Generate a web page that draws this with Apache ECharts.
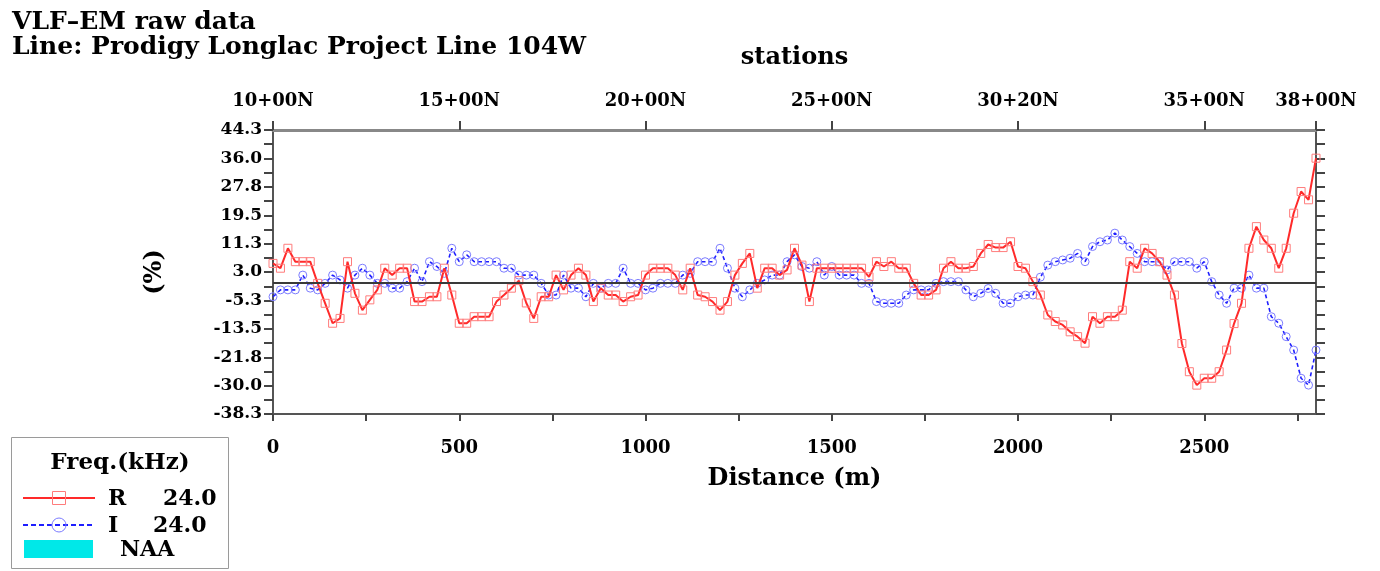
<!DOCTYPE html>
<html>
<head>
<meta charset="utf-8">
<script src="https://cdn.jsdelivr.net/npm/echarts@6/dist/echarts.min.js"></script>
<style>
html,body{margin:0;padding:0;background:#fff;}
#chart{width:1380px;height:571px;}
</style>
</head>
<body>
<div id="chart"></div>
<script>
// Distance along the line (m)
const distances = [
  0,20,40,60,80,100,120,140,160,180,200,220,240,260,280,300,320,340,360,380,
  400,420,440,460,480,500,520,540,560,580,600,620,640,660,680,700,720,740,760,780,
  800,820,840,860,880,900,920,940,960,980,1000,1020,1040,1060,1080,1100,1120,1140,1160,1180,
  1200,1220,1240,1260,1280,1300,1320,1340,1360,1380,1400,1420,1440,1460,1480,1500,1520,1540,1560,1580,
  1600,1620,1640,1660,1680,1700,1720,1740,1760,1780,1800,1820,1840,1860,1880,1900,1920,1940,1960,1980,
  2000,2020,2040,2060,2080,2100,2120,2140,2160,2180,2200,2220,2240,2260,2280,2300,2320,2340,2360,2380,
  2400,2420,2440,2460,2480,2500,2520,2540,2560,2580,2600,2620,2640,2660,2680,2700,2720,2740,2760,2780,
  2800
];
// R (in-phase) 24.0 kHz, %
const rValues = [
  5.5,4.1,9.9,6.0,6.0,6.0,-0.3,-6.1,-11.9,-10.5,6.0,-3.2,-8.1,-5.1,-2.2,4.1,2.1,4.1,4.1,-5.6,
  -5.6,-4.2,-4.2,4.1,-3.7,-11.9,-11.9,-10.0,-10.0,-10.0,-5.6,-3.7,-1.7,0.5,-6.0,-10.5,-4.2,-4.2,2.1,-2.2,
  2.1,4.1,2.1,-5.6,-1.7,-3.7,-3.7,-5.6,-4.2,-3.7,2.1,4.1,4.1,4.1,2.1,-2.2,4.1,-3.7,-4.2,-5.6,
  -8.1,-5.6,2.1,5.5,8.4,-1.7,4.1,4.1,2.1,3.6,9.9,5.0,-5.6,4.1,4.1,4.1,4.1,4.1,4.1,4.1,
  1.6,6.0,4.6,6.0,4.1,4.1,-0.3,-3.7,-3.7,-2.2,4.1,6.0,4.1,4.1,4.6,8.4,11.0,10.1,10.1,11.8,
  4.6,4.1,0.2,-3.7,-9.5,-11.4,-12.4,-14.4,-15.8,-17.7,-10.0,-11.9,-10.0,-10.0,-8.1,6.0,4.1,9.9,8.4,6.0,
  2.1,-3.7,-17.8,-26.0,-29.9,-27.9,-27.9,-26.0,-19.7,-12.0,-6.1,9.9,16.2,12.3,9.9,4.1,9.9,20.1,26.4,24.0,
  36.1
];
// I (quadrature) 24.0 kHz, %
const iValues = [
  -4.2,-2.2,-2.2,-2.2,2.1,-1.7,-2.2,-0.3,2.1,0.7,-1.7,2.1,4.1,2.1,-0.3,-0.3,-1.7,-1.7,0.2,4.1,
  0.2,6.0,4.6,2.6,9.9,6.0,8.0,6.0,6.0,6.0,6.0,4.1,4.1,2.1,2.1,2.1,-0.3,-3.7,-3.7,2.1,
  -1.7,-1.7,-4.2,-0.3,-1.7,-0.3,-0.3,4.1,-0.3,-0.3,-2.2,-1.7,-0.3,-0.3,-0.3,2.1,2.6,6.0,6.0,6.0,
  9.9,4.1,-1.7,-4.2,-2.2,-0.3,0.7,2.1,2.1,6.0,8.0,4.6,4.1,6.0,2.1,4.6,2.1,2.1,2.1,-0.3,
  -0.3,-5.6,-6.1,-6.1,-6.1,-3.7,-2.2,-2.2,-2.2,-0.3,0.2,0.2,0.2,-2.2,-4.2,-3.2,-1.8,-3.2,-6.1,-6.1,
  -4.2,-3.7,-3.7,1.5,5.0,6.0,6.5,7.0,8.4,6.0,10.4,11.8,12.3,14.3,12.3,10.4,8.4,6.0,6.0,6.0,
  3.6,6.0,6.0,6.0,4.1,6.0,0.2,-3.7,-6.1,-1.7,-1.7,2.1,-1.7,-1.7,-10.0,-11.9,-15.8,-19.7,-27.9,-29.9,
  -19.7
];
// Axis ticks and labels
const yTicks = [-38.3,-30.0,-21.8,-13.5,-5.3,3.0,11.3,19.5,27.8,36.0,44.3];
const yTickMarks = [-38.3,-34.2,-30.0,-25.9,-21.8,-17.7,-13.5,-9.4,-5.3,-1.2,3.0,7.1,11.3,15.4,19.5,23.7,27.8,31.9,36.0,40.2,44.3];
const xLabels = [0,500,1000,1500,2000,2500];
const xTickMarks = [0,250,500,750,1000,1250,1500,1750,2000,2250,2500,2750];
const stationPos = [0,500,1000,1500,2000,2500,2800];
const stationLabels = ['10+00N','15+00N','20+00N','25+00N','30+20N','35+00N','38+00N'];

const FONT = 'DejaVu Serif';
const rData = distances.map((d, k) => [d, rValues[k]]);
const iData = distances.map((d, k) => [d, iValues[k]]);

const chart = echarts.init(document.getElementById('chart'), null, {renderer: 'canvas'});
const lblStyle = {fontFamily: FONT, fontSize: 18, fontWeight: 'bold', color: '#000'};
const nameStyle = {fontFamily: FONT, fontSize: 24, fontWeight: 'bold', color: '#000'};

chart.setOption({
  animation: false,
  backgroundColor: '#fff',
  title: {
    text: 'VLF\u2013EM raw data\nLine: Prodigy Longlac Project Line 104W',
    left: 7, top: 5,
    textStyle: {fontFamily: FONT, fontSize: 25, fontWeight: 'bold', color: '#000', lineHeight: 25}
  },
  grid: {left: 273, right: 64, top: 130, bottom: 157, containLabel: false},
  xAxis: [
    {
      type: 'value', position: 'bottom', min: 0, max: 2800,
      name: 'Distance (m)', nameLocation: 'middle', nameGap: 53,
      nameTextStyle: nameStyle,
      axisLine: {show: true, onZero: false, lineStyle: {color: '#555', width: 2}},
      axisTick: {show: true, inside: false, length: 7, customValues: xTickMarks, lineStyle: {color: '#444', width: 2}},
      axisLabel: {show: true, margin: 25, customValues: xLabels, formatter: v => String(v), ...lblStyle},
      splitLine: {show: false}
    },
    {
      type: 'value', position: 'top', min: 0, max: 2800,
      name: 'stations', nameLocation: 'middle', nameGap: 60,
      nameTextStyle: nameStyle,
      axisLine: {show: true, onZero: false, lineStyle: {color: '#888', width: 3}},
      axisTick: {show: true, inside: false, length: 9, customValues: stationPos, lineStyle: {color: '#444', width: 2}},
      axisLabel: {show: true, margin: 20, customValues: stationPos,
        formatter: v => { const k = stationPos.indexOf(v); return k >= 0 ? stationLabels[k] : ''; },
        ...lblStyle},
      splitLine: {show: false}
    }
  ],
  yAxis: [
    {
      type: 'value', position: 'left', min: -38.3, max: 44.3,
      name: '(%)', nameLocation: 'middle', nameGap: 106,
      nameTextStyle: nameStyle,
      axisLine: {show: true, onZero: false, lineStyle: {color: '#555', width: 2}},
      axisTick: {show: true, inside: false, length: 9, customValues: yTickMarks, lineStyle: {color: '#444', width: 2}},
      axisLabel: {show: true, margin: 11, customValues: yTicks, formatter: v => v.toFixed(1), ...lblStyle, fontSize: 17},
      splitLine: {show: false}
    },
    {
      type: 'value', position: 'right', min: -38.3, max: 44.3,
      axisLine: {show: true, onZero: false, lineStyle: {color: '#555', width: 2}},
      axisTick: {show: true, inside: false, length: 9, customValues: yTickMarks, lineStyle: {color: '#444', width: 2}},
      axisLabel: {show: false},
      splitLine: {show: false}
    }
  ],
  series: [
    {
      name: 'R 24.0', type: 'line', xAxisIndex: 0, yAxisIndex: 0, data: rData,
      symbol: 'rect', symbolSize: 8, showSymbol: true, showAllSymbol: true,
      lineStyle: {color: '#ff2a2a', width: 2},
      itemStyle: {color: 'rgba(255,255,255,0)', borderColor: '#ff7c7c', borderWidth: 1},
      z: 3,
      markLine: {
        silent: true, symbol: ['none', 'none'], label: {show: false},
        lineStyle: {color: '#3a3a3a', width: 2, type: 'solid'},
        data: [{yAxis: 0}]
      }
    },
    {
      name: 'I 24.0', type: 'line', xAxisIndex: 0, yAxisIndex: 0, data: iData,
      symbol: 'circle', symbolSize: 8, showSymbol: true, showAllSymbol: true,
      lineStyle: {color: '#1e1eff', width: 1.6, type: [4, 3]},
      itemStyle: {color: 'rgba(255,255,255,0)', borderColor: '#7c7cff', borderWidth: 1},
      z: 2
    }
  ],
  graphic: [
    {type: 'rect', shape: {x: 11.5, y: 437.5, width: 217, height: 131}, style: {fill: '#fff', stroke: '#9a9a9a', lineWidth: 1}},
    {type: 'text', x: 120, y: 463, style: {text: 'Freq.(kHz)', fontFamily: FONT, fontSize: 23, fontWeight: 'bold', fill: '#000', align: 'center', verticalAlign: 'middle'}},
    {type: 'line', shape: {x1: 23, y1: 498, x2: 95, y2: 498}, style: {stroke: '#ff2a2a', lineWidth: 2}},
    {type: 'rect', shape: {x: 52.5, y: 491.5, width: 13, height: 13}, style: {fill: 'none', stroke: '#ff7c7c', lineWidth: 1}},
    {type: 'text', x: 108, y: 499, style: {text: 'R', fontFamily: FONT, fontSize: 22, fontWeight: 'bold', fill: '#000', align: 'left', verticalAlign: 'middle'}},
    {type: 'text', x: 163, y: 499, style: {text: '24.0', fontFamily: FONT, fontSize: 22, fontWeight: 'bold', fill: '#000', align: 'left', verticalAlign: 'middle'}},
    {type: 'line', shape: {x1: 23, y1: 525, x2: 95, y2: 525}, style: {stroke: '#1e1eff', lineWidth: 2, lineDash: [5, 3]}},
    {type: 'circle', shape: {cx: 59, cy: 525, r: 7}, style: {fill: 'none', stroke: '#7c7cff', lineWidth: 1}},
    {type: 'text', x: 108, y: 526, style: {text: 'I', fontFamily: FONT, fontSize: 22, fontWeight: 'bold', fill: '#000', align: 'left', verticalAlign: 'middle'}},
    {type: 'text', x: 153, y: 526, style: {text: '24.0', fontFamily: FONT, fontSize: 22, fontWeight: 'bold', fill: '#000', align: 'left', verticalAlign: 'middle'}},
    {type: 'rect', shape: {x: 24, y: 540, width: 69, height: 18}, style: {fill: '#00e8e8'}},
    {type: 'text', x: 120, y: 550, style: {text: 'NAA', fontFamily: FONT, fontSize: 22, fontWeight: 'bold', fill: '#000', align: 'left', verticalAlign: 'middle'}}
  ]
});
</script>
</body>
</html>
